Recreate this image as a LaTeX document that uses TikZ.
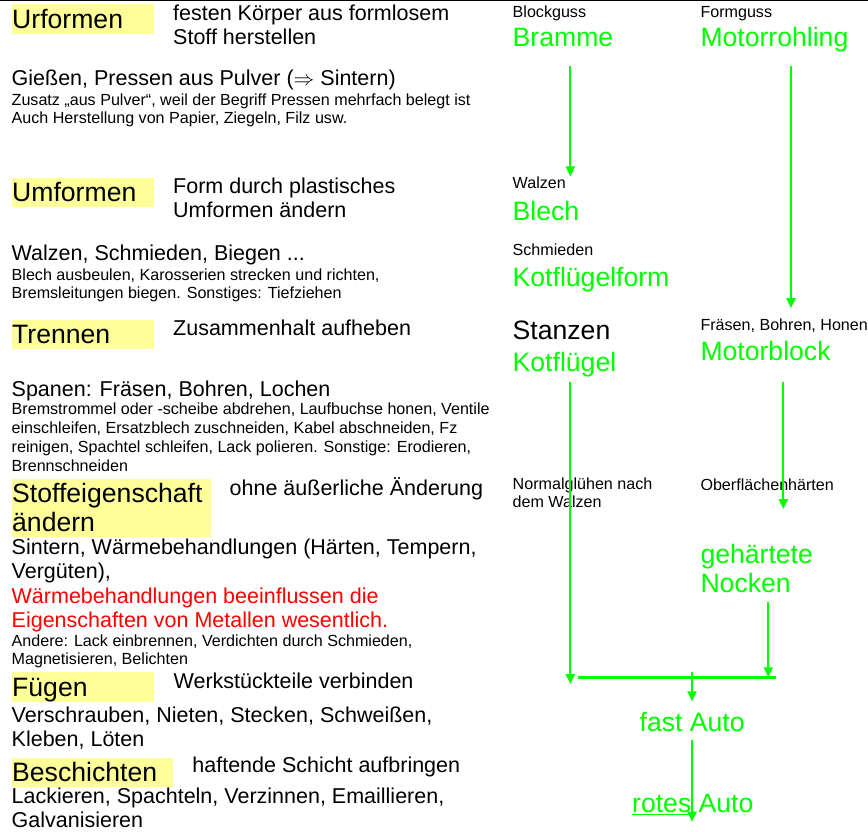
\documentclass[tikz,border=0pt]{standalone}
\usepackage{fontspec}
\setmainfont{Liberation Sans}
\usetikzlibrary{arrows.meta}

\definecolor{gelb}{RGB}{255,255,153}
\definecolor{gruen}{RGB}{0,255,0}
\definecolor{rot}{RGB}{255,0,0}

\newcommand{\gross}{\fontsize{26.6pt}{29.5pt}\selectfont}
\newcommand{\mittel}{\fontsize{21.5pt}{24pt}\selectfont}
\newcommand{\klein}{\fontsize{16.1pt}{18pt}\selectfont}
\newcommand{\unterstrichen}[1]{\setbox0\hbox{#1}\rlap{\rule[-2.3pt]{\wd0}{1.2pt}}#1}

\begin{document}
\begin{tikzpicture}[x=1pt, y=-1pt,
    begriff/.style={fill=gelb, anchor=north west, inner sep=0pt, align=left, font=\gross},
    erklaerung/.style={anchor=base west, inner sep=0pt, align=left, font=\mittel},
    notiz/.style={anchor=base west, inner sep=0pt, align=left, font=\klein},
    teil/.style={anchor=base west, inner sep=0pt, align=left, font=\gross, text=gruen},
    pfeil/.style={-{Triangle[length=10pt, width=9pt]}, draw=gruen, line width=2pt}]

    \useasboundingbox (0,0) rectangle (868,831);
    \draw[line width=1.2pt] (0,0.8) -- (868,0.8);

    % Urformen
    \node[begriff, text width=142pt, minimum height=29.5pt] (urformen) at (12,4) {Urformen};
    \node[erklaerung] (urformenDef) at (173,44.7) {festen Körper aus formlosem\\Stoff herstellen};
    \node[erklaerung] (urformenBsp) at (11.5,85.5) {Gießen, Pressen aus Pulver ($\Rightarrow$ Sintern)};
    \node[notiz] (urformenNotiz) at (11.5,123.3) {Zusatz „aus Pulver“, weil der Begriff Pressen mehrfach belegt ist\\Auch Herstellung von Papier, Ziegeln, Filz usw.};

    % Umformen
    \node[begriff, text width=142pt, minimum height=29.4pt] (umformen) at (12,177.3) {Umformen};
    \node[erklaerung] (umformenDef) at (173,217.6) {Form durch plastisches\\Umformen ändern};
    \node[erklaerung] (umformenBsp) at (11.5,260.7) {Walzen, Schmieden, Biegen ...};
    \node[notiz] (umformenNotiz) at (11.5,298.3) {Blech ausbeulen, Karosserien strecken und richten,\\Bremsleitungen biegen. Sonstiges: Tiefziehen};

    % Trennen
    \node[begriff, text width=142pt, minimum height=29.4pt] (trennen) at (12,319.3) {Trennen};
    \node[erklaerung] (trennenDef) at (173,335) {Zusammenhalt aufheben};
    \node[erklaerung] (trennenBsp) at (11.5,396.7) {Spanen: Fräsen, Bohren, Lochen};
    \node[notiz, font=\fontsize{16.1pt}{19pt}\selectfont] (trennenNotiz) at (11.5,471.7) {Bremstrommel oder -scheibe abdrehen, Laufbuchse honen, Ventile\\einschleifen, Ersatzblech zuschneiden, Kabel abschneiden, Fz\\reinigen, Spachtel schleifen, Lack polieren. Sonstige: Erodieren,\\Brennschneiden};

    % Stoffeigenschaft aendern
    \node[begriff, text width=199pt, minimum height=58.4pt] (stoff) at (12,478.3) {Stoffeigenschaft\\ändern};
    \node[erklaerung] (stoffDef) at (229.5,495) {ohne äußerliche Änderung};
    \node[erklaerung] (stoffBsp) at (11.5,578.3) {Sintern, Wärmebehandlungen (Härten, Tempern,\\Vergüten),};
    \node[erklaerung, text=rot] (stoffHinweis) at (11.5,627.3) {Wärmebehandlungen beeinflussen die\\Eigenschaften von Metallen wesentlich.};
    \node[notiz] (stoffNotiz) at (11.5,664) {Andere: Lack einbrennen, Verdichten durch Schmieden,\\Magnetisieren, Belichten};

    % Fuegen
    \node[begriff, text width=142pt, minimum height=29.7pt, text depth=0pt] (fuegen) at (12,672) {Fügen};
    \node[erklaerung] (fuegenDef) at (173.5,688.3) {Werkstückteile verbinden};
    \node[erklaerung] (fuegenBsp) at (11.5,746.3) {Verschrauben, Nieten, Stecken, Schweißen,\\Kleben, Löten};

    % Beschichten
    \node[begriff, text width=161pt, minimum height=29.4pt] (beschichten) at (12,757.3) {Beschichten};
    \node[erklaerung] (beschichtenDef) at (192.2,772.7) {haftende Schicht aufbringen};
    \node[erklaerung] (beschichtenBsp) at (11.5,827) {Lackieren, Spachteln, Verzinnen, Emaillieren,\\Galvanisieren};

    % Beispiel: Kotfluegel
    \node[notiz] (blockguss) at (512.5,17.3) {Blockguss};
    \node[teil] (bramme) at (512.5,46.7) {Bramme};
    \node[notiz] (walzen) at (512.5,188.3) {Walzen};
    \node[teil] (blech) at (512.5,220) {Blech};
    \node[notiz] (schmieden) at (512.5,255) {Schmieden};
    \node[teil] (kotfluegelform) at (512.5,286) {Kotflügelform};
    \node[teil, text=black] (stanzen) at (512.5,339.3) {Stanzen};
    \node[teil] (kotfluegel) at (512.5,371.7) {Kotflügel};
    \node[notiz] (normalgluehen) at (512.5,507.3) {Normalglühen nach\\dem Walzen};

    % Beispiel: Motorblock
    \node[notiz] (formguss) at (700.3,17.3) {Formguss};
    \node[teil] (motorrohling) at (700.3,46.7) {Motorrohling};
    \node[notiz] (fraesen) at (700.3,330) {Fräsen, Bohren, Honen};
    \node[teil] (motorblock) at (700.3,360.7) {Motorblock};
    \node[notiz] (oberflaeche) at (700.3,490) {Oberflächenhärten};
    \node[teil] (nocken) at (700.3,592.7) {gehärtete\\Nocken};

    % Zusammenbau
    \node[teil] (fastauto) at (639.5,731.7) {fast Auto};
    \node[teil] (rotesauto) at (632,812.7) {\unterstrichen{rotes} Auto};

    % Hilfspunkte fuer die Pfeile
    \coordinate (spalteL) at (570.3,0);
    \coordinate (spalteM) at (791,0);
    \coordinate (spalteR) at (783.3,0);
    \coordinate (spalteN) at (768.3,0);
    \coordinate (haertung) at (783.3,509);
    \coordinate (sammelL) at (570.3,684);
    \coordinate (balkenL) at (578.3,677.3);
    \coordinate (balkenR) at (776,677.3);
    \coordinate (abzweig) at (692,671.7);
    \coordinate (ende) at (692,821.7);

    % Pfeile
    \draw[pfeil, shorten <=19pt] (bramme.south -| spalteL) -- (walzen.north -| spalteL);
    \draw[pfeil, shorten <=14pt, shorten >=10pt] (motorrohling.south -| spalteM) -- (fraesen.north -| spalteM);
    \draw[pfeil, shorten <=4.5pt] (kotfluegel.south -| spalteL) -- (sammelL);
    \draw[pfeil, shorten <=21pt] (motorblock.south -| spalteR) -- (haertung);
    \draw[pfeil, shorten <=9pt] (nocken.south -| spalteN) -- (balkenR -| spalteN);
    \draw[gruen, line width=3pt] (balkenL) -- (balkenR);
    \draw[pfeil, shorten >=11pt] (abzweig) -- (fastauto.north -| abzweig);
    \draw[pfeil, shorten <=7.6pt] (fastauto.south -| abzweig) -- (ende);
\end{tikzpicture}
\end{document}
